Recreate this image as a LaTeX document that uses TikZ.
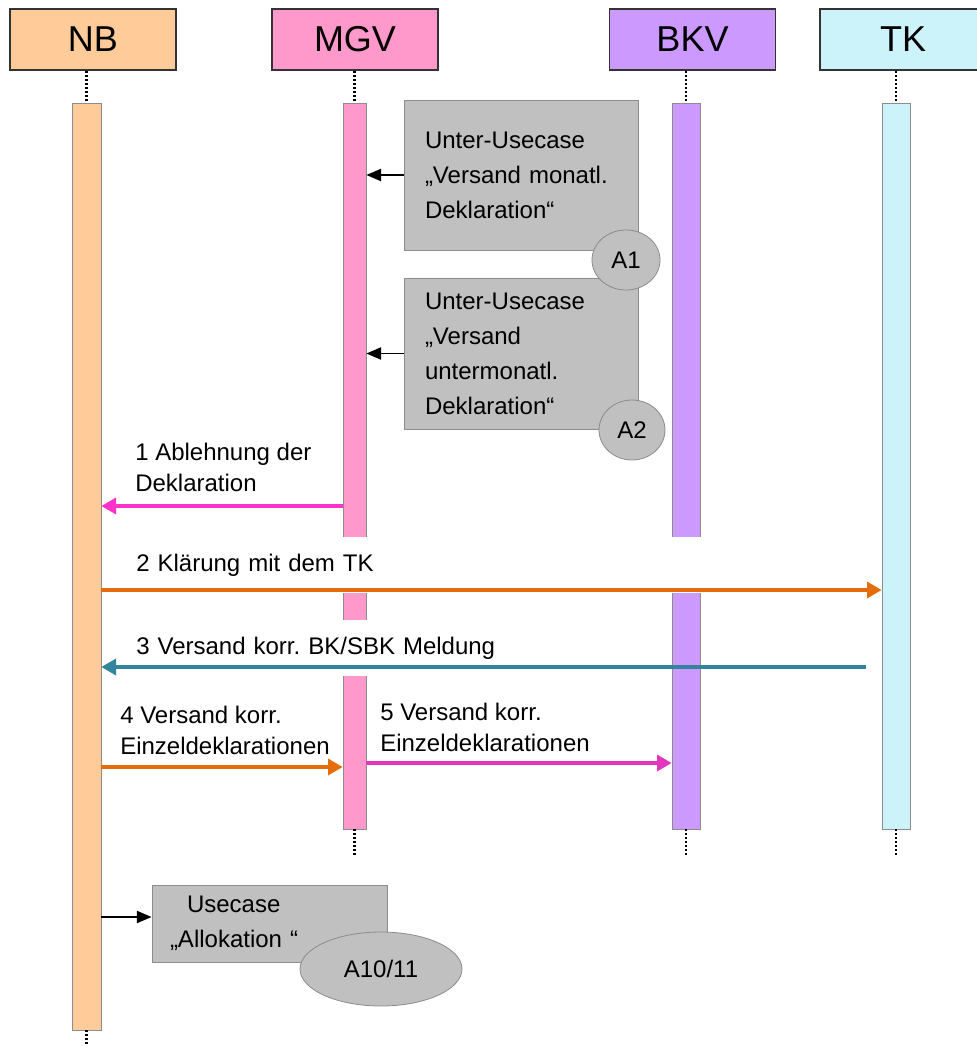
\documentclass[tikz,border=0pt]{standalone}
\usepackage{fontspec}
\setmainfont{Liberation Sans}
\usepackage{xcolor}
\usetikzlibrary{arrows.meta,shapes.geometric}
\definecolor{seqNB}{HTML}{FFCC99}
\definecolor{seqMGV}{HTML}{FF99CC}
\definecolor{seqBKV}{HTML}{CC99FF}
\definecolor{seqTK}{HTML}{CCF2FA}
\definecolor{seqGrey}{HTML}{C0C0C0}
\definecolor{seqEdge}{HTML}{8C8C8C}
\definecolor{seqPink}{HTML}{FF33CC}
\definecolor{seqOrange}{HTML}{E46C0A}
\definecolor{seqTeal}{HTML}{31849B}
\definecolor{seqMagenta}{HTML}{E236BE}
\frenchspacing

\begin{document}
\begin{tikzpicture}[x=0.75pt,y=-0.75pt]
    \tikzset{
        head/.style={draw=black!80,line width=1.3pt,minimum width=124.5pt,minimum height=45.75pt,inner sep=0pt,font=\fontsize{27}{32}\selectfont},
        bar/.style={draw=seqEdge,line width=0.5pt,inner sep=0pt,minimum height=544.5pt},
        lifeline/.style={dash pattern=on 1.5pt off 1.5pt,line width=1.6pt},
        ucbox/.style={draw=seqEdge,fill=seqGrey,line width=0.6pt,inner ysep=0pt,align=left,font=\fontsize{18}{26.25}\selectfont},
        tag/.style={ellipse,draw=seqEdge,fill=seqGrey,line width=0.6pt,inner sep=0pt,font=\fontsize{18}{22}\selectfont},
        msglabel/.style={inner sep=0pt,align=left,font=\fontsize{18}{23.25}\selectfont},
        msg/.style={#1,line width=2.5pt,-{Triangle[length=11pt,width=12pt]}},
        call/.style={line width=1.4pt,-{Triangle[length=11pt,width=9pt]}}
    }
    \useasboundingbox (0,0) rectangle (976,1046);

    \node[head,fill=seqNB] (nb) at (93,39.5) {NB};
    \node[head,fill=seqMGV] (mgv) at (355,39.5) {MGV};
    \node[head,fill=seqBKV] (bkv) at (692.5,39.5) {BKV};
    \node[head,fill=seqTK] (tk) at (903,39.5) {TK};

    \node[bar,fill=seqNB,minimum width=21.75pt,minimum height=695.25pt] (nbBar) at (86.5,566.5) {};
    \node[bar,fill=seqMGV,minimum width=17.25pt] (mgvBar) at (354.5,466) {};
    \node[bar,fill=seqBKV,minimum width=21pt] (bkvBar) at (686,466) {};
    \node[bar,fill=seqTK,minimum width=21pt] (tkBar) at (896,466) {};

    \foreach \p/\q in {nb/nbBar,mgv/mgvBar,bkv/bkvBar,tk/tkBar}{
        \draw[lifeline] (\q.north |- \p.south) -- (\q.north);
    }
    \foreach \q in {mgvBar,bkvBar,tkBar}{
        \draw[lifeline] (\q.south) -- ++(0,26);
    }
    \draw[lifeline] (nbBar.south) -- ++(0,16);

    \node[ucbox,minimum width=175.5pt,minimum height=112.5pt,inner xsep=15.75pt,text width=144pt] (a1Box) at (521,175)
        {Unter-Usecase\\„Versand monatl.\\Deklaration“};
    \node[ucbox,minimum width=175.5pt,minimum height=113.25pt,inner xsep=15.75pt,text width=144pt] (a2Box) at (521,353.5)
        {Unter-Usecase\\„Versand\\untermonatl.\\Deklaration“};
    \node[tag,minimum width=51pt,minimum height=45pt] (a1) at (626,260) {A1};
    \node[tag,minimum width=49.5pt,minimum height=45pt] (a2) at (632,430) {A2};
    \draw[call] (a1Box.west) -- (mgvBar.east |- a1Box.west);
    \draw[call] (a2Box.west) -- (mgvBar.east |- a2Box.west);

    \coordinate (m1) at (0,506);
    \coordinate (m2) at (0,590);
    \coordinate (m3) at (0,667);
    \coordinate (m4) at (0,767);
    \coordinate (m5) at (0,763);

    \node[msglabel,anchor=west] (l1) at (135,467.5) {1 Ablehnung der\\Deklaration};
    \draw[msg=seqPink] (mgvBar.west |- m1) -- (nbBar.east |- m1);

    \node[msglabel,anchor=north west,fill=white,minimum width=577.5pt,minimum height=42pt,inner xsep=25.5pt,text width=526.5pt] (l2) at (102,537) {2 Klärung mit dem TK};
    \draw[msg=seqOrange] (nbBar.east |- m2) -- (tkBar.west |- m2);

    \node[msglabel,anchor=north west,fill=white,minimum width=375pt,minimum height=42pt,inner xsep=25.5pt,text width=324pt] (l3) at (102,620) {3 Versand korr. BK/SBK Meldung};
    \draw[msg=seqTeal] ([xshift=-12pt]tkBar.west |- m3) -- (nbBar.east |- m3);

    \node[msglabel,anchor=west] (l4) at (120,730) {4 Versand korr.\\Einzeldeklarationen};
    \draw[msg=seqOrange] (nbBar.east |- m4) -- (mgvBar.west |- m4);

    \node[msglabel,anchor=west] (l5) at (380,727) {5 Versand korr.\\Einzeldeklarationen};
    \draw[msg=seqMagenta] (mgvBar.east |- m5) -- (bkvBar.west |- m5);

    \node[ucbox,minimum width=176.25pt,minimum height=57.75pt,inner xsep=13.5pt,text width=149.25pt] (uc) at (269.5,923.5)
        {\hspace*{12.75pt}Usecase\\„Allokation “};
    \node[tag,minimum width=121.5pt,minimum height=55.5pt] (a10) at (381,969) {A10/11};
    \draw[call] (nbBar.east |- 0,917) -- (uc.west |- 0,917);
\end{tikzpicture}
\end{document}
